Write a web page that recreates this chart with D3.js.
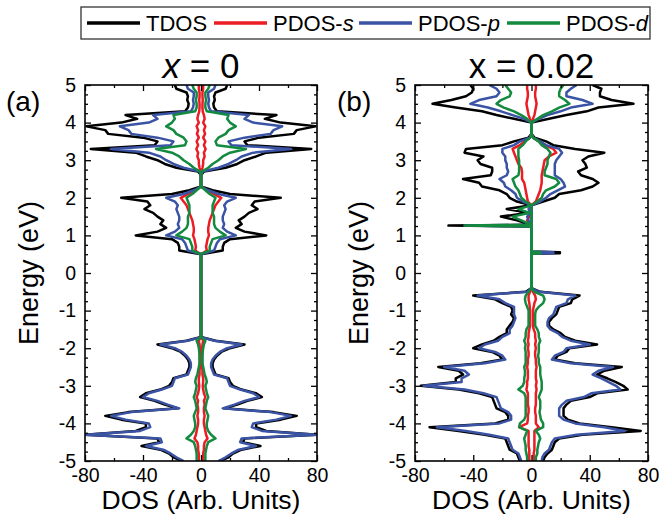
<!DOCTYPE html>
<meta charset="utf-8">
<style>
body { margin: 0; background: #fff; }
text { font-family: "Liberation Sans", Arial, sans-serif; fill: #000; }
.tick text { font-size: 19.5px; }
.domain { display: none; }
</style>
<body>
<script src="https://cdn.jsdelivr.net/npm/d3@7"></script>
<script>

// energy grid for panel (a), 5 eV down to -5 eV
var energyA = [5.0,4.9,4.8,4.7,4.6,4.5,4.4,4.3,4.2,4.1,4.0,3.9,3.8,3.7,3.6,3.5,3.4,3.3,3.2,3.1,3.0,2.9,2.8,2.7,
  2.6,2.5,2.4,2.3,
  2.2,2.1,2.0,1.9,1.8,1.7,1.6,1.5,1.4,1.3,1.2,1.1,1.0,0.9,0.8,0.7,0.6,0.5,
  0.4,0.3,0.2,0.1,0.0,-0.1,-0.2,-0.3,-0.4,-0.5,-0.6,-0.7,-0.8,-0.9,-1.0,-1.1,-1.2,-1.3,-1.4,-1.5,-1.6,-1.7,
  -1.8,-1.9,-2.0,-2.1,-2.2,-2.3,-2.4,-2.5,-2.6,-2.7,-2.8,-2.9,-3.0,-3.1,-3.2,-3.3,-3.4,-3.5,-3.6,-3.7,-3.8,-3.9,
  -4.0,-4.1,-4.2,-4.3,-4.4,-4.5,-4.6,-4.7,-4.8,-4.9,-5.0];

// x = 0 is spin symmetric: one channel, drawn on both sides
var tdosA = [18,17,10,9,9.5,8.5,9,11,52,44,55,79,66,64,40,30,32,76,45,38,30,25,17,2,
  0,0,0,0,
  8,20,55,37,35,39,33,30,26,28,24,30,45,20,16,15,15,0,
  0,0,0,0,0,0,0,0,0,0,0,0,0,0,0,0,0,0,0,0,0,0,
  10,30,20,14,11,9,8,8,9,10,19,20,22,28,38,42,32,25,16,50,66,55,38,38,45,80,30,29,41,28,22,19,13];
var sA = [1.5,1.5,1,1,1.2,1,1,1.2,2,2.5,1.5,3,2,2.8,1.5,3,2,3.2,2,2.5,1.5,1.5,1,0.3,
  0,0,0,0,
  4,9,14,12,10,9,8,7,6,5.5,5,5,5.5,4.5,4,3.5,4,0,
  0,0,0,0,0,0,0,0,0,0,0,0,0,0,0,0,0,0,0,0,0,0,
  1.5,1,0.8,0.8,0.8,0.8,0.8,0.8,1,1,1.5,1.5,1.2,1.5,2,3,2,2.5,2,2,2.5,2,2,2.5,3,3.5,4.5,2.5,2,2,1.5,1.5,1.5];
var pA = [10,9,5,5,5.5,5,5.5,7,33,30,36,56,50,48,30,19,21,62,36,28,24,19,12,1,
  0,0,0,0,
  5,12,24,18,16,17,16,15,15,16,15,18,24,13,11,10,9,0,
  0,0,0,0,0,0,0,0,0,0,0,0,0,0,0,0,0,0,0,0,0,0,
  9,28,18,13,10,8,7,7,8,9,18,19,20,27,36,40,30,23,15,48,62,52,36,35,42,80,28,27,38,26,21,17,12];
var dA = [6,5,3,3,3.5,3,3,4,19,18,20,24,19,17,12,10,11,31,20,15,12,8,5,0.5,
  0,0,0,0,
  3,6,10,9,8,8,8,9,9,9,10,13,17,8,7,6,6,0,
  0,0,0,0,0,0,0,0,0,0,0,0,0,0,0,0,0,0,0,0,0,0,
  3,2,1.5,1.2,1,1,1,1.5,2,2.5,3.5,4,3,3.5,4,5,4,3.5,3,4,5,4.5,4,4,5,7,10,5,4,3.5,3,3,3];

// energy grid for panel (b), extra points at the gap states
var energyB = [5.0,4.9,4.8,4.7,4.6,4.5,4.4,4.3,4.2,4.1,4.0,
  3.9,3.8,3.7,
  3.6,3.5,3.4,3.3,3.2,3.1,3.0,2.9,2.8,2.7,2.6,2.5,2.4,2.3,2.2,2.1,2.0,1.9,1.8,
  1.7,1.6,1.5,1.4,1.3,
  1.28,1.26,1.24,
  1.2,1.1,1.0,0.9,0.8,0.7,0.6,
  0.57,0.555,0.525,0.51,
  0.5,0.4,0.3,0.2,0.1,0.0,-0.1,-0.2,-0.3,-0.4,
  -0.5,-0.6,-0.7,-0.8,-0.9,-1.0,-1.1,-1.2,-1.3,-1.4,-1.5,-1.6,-1.7,-1.8,-1.9,-2.0,-2.1,-2.2,-2.3,-2.4,-2.5,
  -2.6,-2.7,-2.8,-2.9,-3.0,-3.1,-3.2,-3.3,-3.4,-3.5,-3.6,-3.7,-3.8,-3.9,-4.0,-4.1,-4.2,-4.3,-4.4,-4.5,
  -4.6,-4.7,-4.8,-4.9,-5.0];

// x = 0.02, spin up (right) and spin down (left, magnitudes)
var tdosUpB = [42,48,47,47,55,70,46,38,24,12,0,
  0,0,0,
  2,10,15,30,50,39,35,37,38,32,34,42,46,42,34,19,16,8,0,
  0,0,0,0,0,
  0,0,0,
  0,0,0,0,0,0,0,
  0,19.5,19.5,0,
  0,0,0,0,0,0,0,0,0,0,
  6,33,28,27,19,18,17,14,12,12,15,20,23,30,45,26,24,18,16,30,62,50,45,52,58,63,66,45,40,27,24,22,22,22,25,33,55,75,35,19,16,15,14,11,9,8];
var tdosDnB = [42,40,41,45,55,68,52,34,24,12,0,
  0,0,0,
  2,12,20,45,46,33,37,35,27,27,28,47,36,34,22,17,15,10,0,
  17,2,21,10,2,
  0,57,0,
  0,0,0,0,0,0,0,
  0,0,0,0,
  0,0,0,0,0,0,0,0,0,0,
  4,40,25,20,14,13,14,12,13,15,17,17,22,26,34,40,27,22,20,35,64,50,47,52,52,76,50,36,27,26,25,24,18,16,16,25,70,50,32,18,17,16,15,10,9,8];
var sUpB = [3,3,2.5,2.5,3,3.5,3,2.5,2,1,0,
  0,0,0,
  1,5,9,15,17,12,9,8.5,8,7.5,7,7,7,6.5,6,5,4,3,0,
  0,0,0,0,0,
  0,0,0,
  0,0,0,0,0,0,0,
  0,0.5,0.5,0,
  0,0,0,0,0,0,0,0,0,0,
  1,2.5,3,2,1.5,1,1,1,1,1,1.5,2.5,2.5,3,2.5,3,2.5,2.5,3,3,3.5,3,3,3,3.5,3,3.5,3,3,3,3,2.5,2.5,3,3,3,5,2,2,2,2,2,2,1.5,1.5,1.5];
var sDnB = [3,3,2.5,2.5,3,3.5,3,2.5,2,1,0,
  0,0,0,
  1,5,8,13,12,11,10,9,7,6.5,6.5,6.5,5,4.5,4,3.5,3,2.5,0,
  1,0.5,1.5,3,1,
  0,2,0,
  0,0,0,0,0,0,0,
  0,0,0,0,
  0,0,0,0,0,0,0,0,0,0,
  1,2,2,1.5,1.2,1,1,1,1,1,1.5,2,2,2.5,2,2.5,2,2,2.5,2.5,3,2.5,2.5,2.5,3,3,3.5,2.5,2.5,2.5,2.5,2,2,2.5,2.5,3,8.5,2,2,2,2,2,1.5,1.5,1.5,1.5];
var pUpB = [31,27,24,24,35,42,27,20,11,5,0,
  0,0,0,
  1,6,10,19,21,19,17,16,16,16,16,20,22,23,18,13,10,6,0,
  0,0,0,0,0,
  0,0,0,
  0,0,0,0,0,0,0,
  0,15,15,0,
  0,0,0,0,0,0,0,0,0,0,
  5,30,25,24,17,16,15,12,11,11,13,18,21,27,40,24,22,16,14,27,56,46,42,48,53,58,61,41,36,24,21,19,19,19,22,30,50,64,31,16,14,13,12,9,7.5,7];
var pDnB = [29,24,22,24,36,42,30,21,13,5,0,
  0,0,0,
  1,8,12,20,20,18,18,17,17,16,17,22,19,18,14,11,10,6,0,
  2,0.5,3,2,1,
  0,45,0,
  0,0,0,0,0,0,0,
  0,0,0,0,
  0,0,0,0,0,0,0,0,0,0,
  3,37,22,18,12,12,12,11,12,13,15,15,20,23,32,36,25,20,18,32,60,46,43,48,48,74,46,33,24,23,22,21,16,14,14,22,65,45,29,16,15,14,13,9,8,7];
var dUpB = [22,20,19,19,23,26,19,14,8,4,0,
  0,0,0,
  1,5,7,11,13,12,11,11,10,9,9,17,19,16,10,8,7,4,0,
  0,0,0,0,0,
  0,0,0,
  0,0,0,0,0,0,0,
  0,6,6,0,
  0,0,0,0,0,0,0,0,0,0,
  2,8,9,8,5,3,2.5,2.5,2.5,2.5,4,5,5,6,5,5,5,4.5,5,5,6,6,6,6.5,7,7,7,6,5,6,6,6,5.5,6,6.5,8,8,3,5,6,5,4.5,4,4,3,3];
var dDnB = [18,16,14,15,21,24,19,12,7,3,0,
  0,0,0,
  1,4,6,9,9,9,8.5,8.5,8.5,8.5,9,13,12,11,9,8,7,4,0,
  9,1,13,7,1,
  0,46,0,
  0,0,0,0,0,0,0,
  0,0,0,0,
  0,0,0,0,0,0,0,0,0,0,
  2,4,4.5,4,3,2,2,2,2,2,3.5,4,4,5,4,4.5,4,4,4,4,5,4.5,4.5,5,5,6,9,5,4,4,4,4,4,4,5,8,8.5,3,4,5,4.5,4,4,3.5,3,3];

var xTicks = [-80, -40, 0, 40, 80];
var xMinor = [-60, -20, 20, 60];
var yTicks = [-5, -4, -3, -2, -1, 0, 1, 2, 3, 4, 5];
var yMinor = d3.range(-5, 5.001, 0.25).filter(function(d) { return d % 1 !== 0; });

var names = ["TDOS", "PDOS-", "PDOS-", "PDOS-"];
var orbitals = ["", "s", "p", "d"];
var colors = ["#000000", "#ec1c24", "#3a53a4", "#138a3f"];

var width = 659, height = 523,
    plotTop = 85, plotBottom = 461;

var svg = d3.select("body").append("svg")
    .attr("width", width)
    .attr("height", height);

var panels = [
  {left: 85, right: 317, tag: "(a)", tagX: 6, labelX: 38, id: "a",
   energy: energyA, up: [tdosA, sA, pA, dA], dn: [tdosA, sA, pA, dA]},
  {left: 415, right: 648, tag: "(b)", tagX: 337, labelX: 368, id: "b",
   energy: energyB, up: [tdosUpB, sUpB, pUpB, dUpB], dn: [tdosDnB, sDnB, pDnB, dDnB]}
];

panels.forEach(function(p) {
  var x = d3.scaleLinear().domain([-80, 80]).range([p.left, p.right]);
  var y = d3.scaleLinear().domain([-5, 5]).range([plotBottom, plotTop]);
  var g = svg.append("g");

  g.append("clipPath").attr("id", "clip-" + p.id)
    .append("rect")
      .attr("x", p.left).attr("y", plotTop)
      .attr("width", p.right - p.left).attr("height", plotBottom - plotTop);

  var line = d3.line()
      .x(function(d) { return x(d[1]); })
      .y(function(d) { return y(d[0]); });

  var curves = g.append("g").attr("clip-path", "url(#clip-" + p.id + ")");
  p.up.forEach(function(vals, k) {
    [[vals, 1], [p.dn[k], -1]].forEach(function(side) {
      curves.append("path")
          .datum(p.energy.map(function(e, i) { return [e, side[1] * side[0][i]]; }))
          .attr("fill", "none")
          .attr("stroke", colors[k])
          .attr("stroke-width", 2.5)
          .attr("stroke-linejoin", "round")
          .attr("d", line);
    });
  });

  // axes, ticks pointing inward on all four sides
  g.append("g").attr("transform", "translate(" + p.left + ",0)")
      .call(d3.axisLeft(y).tickValues(yTicks).tickSize(-6).tickPadding(9)
        .tickFormat(function(d) { return d; }));
  g.append("g").attr("transform", "translate(" + p.left + ",0)")
      .call(d3.axisLeft(y).tickValues(yMinor).tickSize(-3).tickFormat(""));
  g.append("g").attr("transform", "translate(" + p.right + ",0)")
      .call(d3.axisRight(y).tickValues(yTicks).tickSize(-6).tickFormat(""));
  g.append("g").attr("transform", "translate(" + p.right + ",0)")
      .call(d3.axisRight(y).tickValues(yMinor).tickSize(-3).tickFormat(""));
  g.append("g").attr("transform", "translate(0," + plotBottom + ")")
      .call(d3.axisBottom(x).tickValues(xTicks).tickSize(-6).tickPadding(7)
        .tickFormat(function(d) { return d; }));
  g.append("g").attr("transform", "translate(0," + plotBottom + ")")
      .call(d3.axisBottom(x).tickValues(xMinor).tickSize(-3).tickFormat(""));
  g.append("g").attr("transform", "translate(0," + plotTop + ")")
      .call(d3.axisTop(x).tickValues(xTicks).tickSize(-6).tickFormat(""));
  g.append("g").attr("transform", "translate(0," + plotTop + ")")
      .call(d3.axisTop(x).tickValues(xMinor).tickSize(-3).tickFormat(""));
  g.selectAll(".tick line").attr("stroke", "#000").attr("stroke-width", 1.3);

  g.append("rect")
      .attr("x", p.left).attr("y", plotTop)
      .attr("width", p.right - p.left).attr("height", plotBottom - plotTop)
      .attr("fill", "none").attr("stroke", "#000").attr("stroke-width", 1.6);

  var cx = (p.left + p.right) / 2;
  g.append("text")
      .attr("x", cx).attr("y", 509)
      .attr("text-anchor", "middle")
      .style("font-size", "26.5px")
      .text("DOS (Arb. Units)");

  g.append("text")
      .attr("transform", "translate(" + p.labelX + "," + ((plotTop + plotBottom) / 2) + ") rotate(-90)")
      .attr("text-anchor", "middle")
      .style("font-size", "27px")
      .text("Energy (eV)");

  g.append("text")
      .attr("x", p.tagX).attr("y", 111)
      .style("font-size", "28px")
      .text(p.tag);

  var title = g.append("text")
      .attr("x", cx).attr("y", 78)
      .attr("text-anchor", "middle")
      .style("font-size", "35px");
  if (p.id === "a") {
    title.append("tspan").style("font-style", "italic").text("x");
    title.append("tspan").text(" = 0");
  } else {
    title.text("x = 0.02");
  }
});

// legend
var legend = svg.append("g");
legend.append("rect")
    .attr("x", 81).attr("y", 7)
    .attr("width", 569).attr("height", 32)
    .attr("fill", "#fff").attr("stroke", "#333").attr("stroke-width", 1.3);

var legendX = [87, 214, 359, 507];
names.forEach(function(n, k) {
  legend.append("line")
      .attr("x1", legendX[k]).attr("x2", legendX[k] + 53)
      .attr("y1", 23).attr("y2", 23)
      .attr("stroke", colors[k]).attr("stroke-width", 3.5);
  var t = legend.append("text")
      .attr("x", legendX[k] + 59).attr("y", 31)
      .style("font-size", "22px");
  t.append("tspan").text(n);
  t.append("tspan").style("font-style", "italic").text(orbitals[k]);
});

</script>
